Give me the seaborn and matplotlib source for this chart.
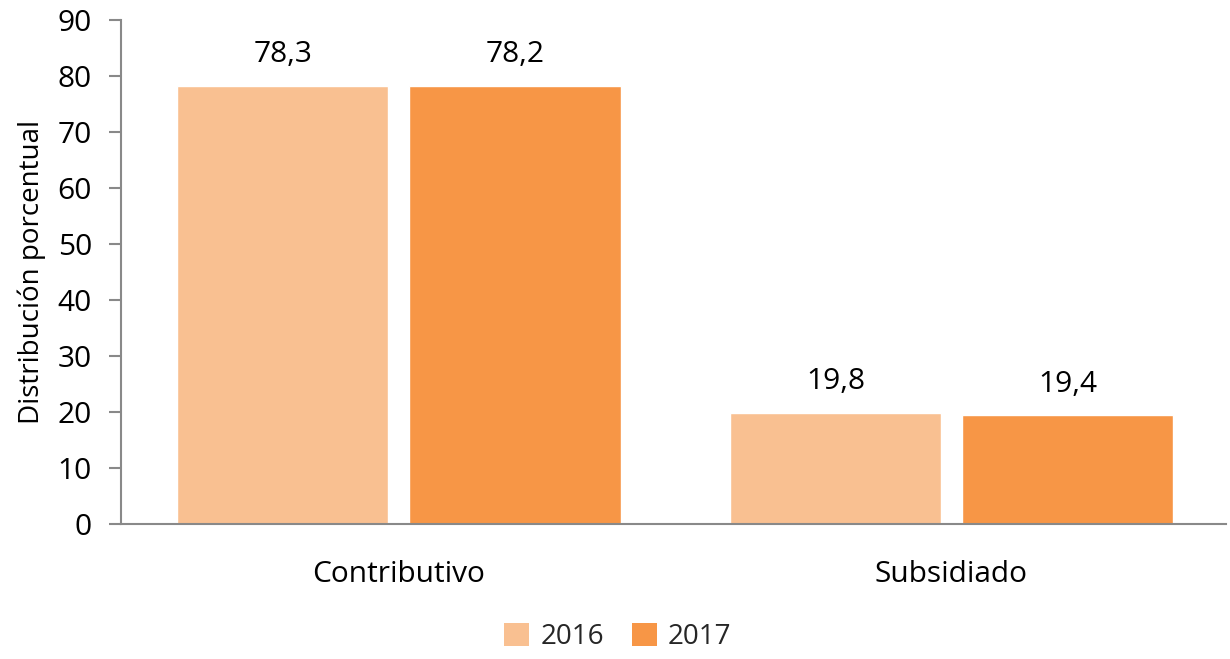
import matplotlib
matplotlib.use("Agg")
import matplotlib.pyplot as plt
import seaborn as sns
import pandas as pd
from matplotlib.patches import Patch

# Distribución porcentual por régimen de afiliación
categorias = ["Contributivo", "Subsidiado"]
anios = ["2016", "2017"]
valores_2016 = [78.3, 19.8]
valores_2017 = [78.2, 19.4]
colores = ["#F9C091", "#F79646"]

df = pd.DataFrame({
    "categoria": categorias * 2,
    "anio": [anios[0]] * 2 + [anios[1]] * 2,
    "valor": valores_2016 + valores_2017,
})

sns.set_theme(style="white")
plt.rcParams["font.family"] = ["Open Sans", "DejaVu Sans"]

fig = plt.figure(figsize=(12.3, 6.59), dpi=100)
ax = fig.add_axes([121 / 1230, 135 / 659, 1105 / 1230, 504 / 659])

sns.barplot(data=df, x="categoria", y="valor", hue="anio", order=categorias,
            hue_order=anios, palette=colores, width=0.84, gap=0.09,
            saturation=1, ax=ax, legend=False)

for cont in ax.containers:
    labels = [f"{b.get_height():.1f}".replace(".", ",") for b in cont]
    ax.bar_label(cont, labels=labels, padding=12, fontsize=21.5, color="#000000")

ax.set_ylim(0, 90)
ax.set_yticks(range(0, 91, 10))
ax.set_xlim(-0.503, 1.497)
ax.set_xlabel("")
ax.set_ylabel("Distribución porcentual", fontsize=20, color="#000000", labelpad=8)
ax.tick_params(axis="y", labelsize=21.5, colors="#000000", length=9, width=1.5,
               color="#898989", direction="out", left=True, pad=12)
ax.tick_params(axis="x", labelsize=21.5, colors="#000000", length=0, pad=26)

for side in ["top", "right"]:
    ax.spines[side].set_visible(False)
for side in ["left", "bottom"]:
    ax.spines[side].set_color("#898989")
    ax.spines[side].set_linewidth(1.5)

handles = [Patch(facecolor=c, edgecolor="none") for c in colores]
fig.legend(handles, anios, loc="center", bbox_to_anchor=(618 / 1230, 1 - 637 / 659),
           ncol=2, frameon=False, fontsize=20, handlelength=0.9, handleheight=0.9,
           handletextpad=0.4, columnspacing=1.0)

fig.savefig("out.png", dpi=100)
